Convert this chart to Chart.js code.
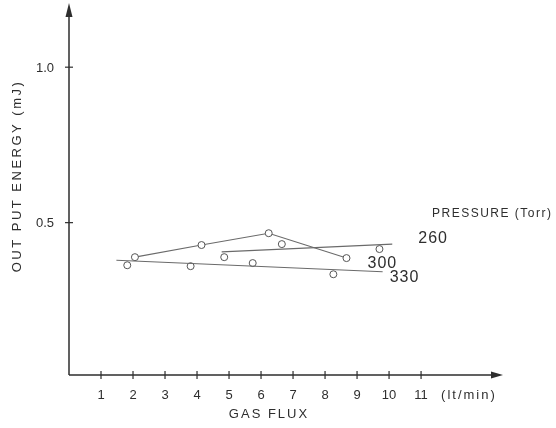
<!DOCTYPE html>
<html>
<head>
<meta charset="utf-8">
<script src="https://cdn.jsdelivr.net/npm/chart.js@4"></script>
<style>
  html, body { margin: 0; padding: 0; background: #fff; }
  #wrap { width: 556px; height: 428px; }
</style>
</head>
<body>
<div id="wrap"><canvas id="energyChart" width="556" height="428"></canvas></div>
<script>
// gas flux (lt/min) vs output energy (mJ), one set per pressure (Torr)
const xTicks = [1, 2, 3, 4, 5, 6, 7, 8, 9, 10, 11];
const yTicks = [0.5, 1.0];

const flux260 = [4.85, 6.65, 9.7];
const energy260 = [0.389, 0.431, 0.415];
const fit260x = [4.77, 10.1];
const fit260y = [0.406, 0.431];

const flux300 = [2.06, 4.14, 6.24, 8.67];
const energy300 = [0.389, 0.428, 0.466, 0.386];

const flux330 = [1.82, 3.8, 5.74, 8.26];
const energy330 = [0.363, 0.360, 0.370, 0.334];
const fit330x = [1.48, 9.8];
const fit330y = [0.379, 0.342];

const pressureLabels = ['260', '300', '330'];

function pts(xs, ys) {
    return xs.map(function (x, i) { return { x: x, y: ys[i] }; });
}

const ink = '#2e2e2e';
const lineGray = '#6a6a6a';
const fontFam = '"Liberation Sans", Arial, sans-serif';

const circleStyle = {
    showLine: false,
    pointRadius: 3.5,
    pointBorderWidth: 1,
    pointBackgroundColor: '#fff',
    pointBorderColor: '#555'
};

// hand drawn look: axes with arrows, crossing tick marks, text labels
const axesPlugin = {
    id: 'axesPlugin',
    afterDraw: function (chart) {
        const ctx = chart.ctx;
        const xs = chart.scales.x;
        const ys = chart.scales.y;
        const x0 = xs.getPixelForValue(0);
        const y0 = ys.bottom;
        const xEnd = xs.right;
        const yTop = ys.top;

        ctx.save();
        ctx.strokeStyle = ink;
        ctx.fillStyle = ink;
        ctx.lineWidth = 1.5;

        ctx.beginPath();
        ctx.moveTo(x0, y0);
        ctx.lineTo(xEnd - 6, y0);
        ctx.moveTo(x0, y0);
        ctx.lineTo(x0, yTop + 8);
        ctx.stroke();

        // arrows
        ctx.beginPath();
        ctx.moveTo(xEnd, y0);
        ctx.lineTo(xEnd - 12, y0 - 3.5);
        ctx.lineTo(xEnd - 12, y0 + 3.5);
        ctx.closePath();
        ctx.fill();
        ctx.beginPath();
        ctx.moveTo(x0, yTop - 2);
        ctx.lineTo(x0 - 3.5, yTop + 12);
        ctx.lineTo(x0 + 3.5, yTop + 12);
        ctx.closePath();
        ctx.fill();

        ctx.lineWidth = 1.2;
        ctx.font = '13px ' + fontFam;
        ctx.textAlign = 'center';
        ctx.textBaseline = 'middle';
        xTicks.forEach(function (t) {
            const px = xs.getPixelForValue(t);
            ctx.beginPath();
            ctx.moveTo(px, y0 - 4);
            ctx.lineTo(px, y0 + 4);
            ctx.stroke();
            ctx.fillText(String(t), px, y0 + 20);
        });
        ctx.textAlign = 'left';
        ctx.letterSpacing = '2px';
        ctx.fillText('(lt/min)', xs.getPixelForValue(11) + 20, y0 + 20);

        ctx.textAlign = 'right';
        ctx.letterSpacing = '0px';
        yTicks.forEach(function (t) {
            const py = ys.getPixelForValue(t);
            ctx.beginPath();
            ctx.moveTo(x0 - 4, py);
            ctx.lineTo(x0 + 4, py);
            ctx.stroke();
            ctx.fillText(t.toFixed(1), x0 - 15, py + 1);
        });

        // axis titles
        ctx.textAlign = 'center';
        ctx.letterSpacing = '2px';
        ctx.font = '13px ' + fontFam;
        ctx.fillText('GAS FLUX', 269, y0 + 39);
        ctx.save();
        ctx.translate(17, 176);
        ctx.rotate(-Math.PI / 2);
        ctx.letterSpacing = '2.5px';
        ctx.font = '13px ' + fontFam;
        ctx.fillText('OUT PUT ENERGY (mJ)', 0, 0);
        ctx.restore();

        // pressure labels next to line ends
        ctx.textAlign = 'left';
        ctx.letterSpacing = '1.5px';
        ctx.font = '12px ' + fontFam;
        ctx.fillText('PRESSURE (Torr)', 432, 214);
        ctx.font = '16px ' + fontFam;
        ctx.letterSpacing = '1px';
        ctx.fillText(pressureLabels[0], xs.getPixelForValue(fit260x[1]) + 26, ys.getPixelForValue(fit260y[1]) - 6);
        ctx.fillText(pressureLabels[1], xs.getPixelForValue(flux300[3]) + 21, ys.getPixelForValue(energy300[3]) + 6);
        ctx.fillText(pressureLabels[2], xs.getPixelForValue(fit330x[1]) + 7, ys.getPixelForValue(fit330y[1]) + 6);
        ctx.restore();
    }
};

document.addEventListener("DOMContentLoaded", function () {
    const ctx = document.getElementById('energyChart').getContext('2d');

    new Chart(ctx, {
        type: 'scatter',
        data: {
            datasets: [
                {
                    label: '260 fit',
                    data: pts(fit260x, fit260y),
                    showLine: true,
                    pointRadius: 0,
                    borderColor: lineGray,
                    borderWidth: 1.1
                },
                {
                    label: '330 fit',
                    data: pts(fit330x, fit330y),
                    showLine: true,
                    pointRadius: 0,
                    borderColor: lineGray,
                    borderWidth: 1.1
                },
                {
                    label: '300',
                    data: pts(flux300, energy300),
                    showLine: true,
                    borderColor: lineGray,
                    borderWidth: 1.1,
                    pointRadius: 3.5,
                    pointBorderWidth: 1,
                    pointBackgroundColor: '#fff',
                    pointBorderColor: '#555'
                },
                Object.assign({ label: '260', data: pts(flux260, energy260) }, circleStyle),
                Object.assign({ label: '330', data: pts(flux330, energy330) }, circleStyle)
            ]
        },
        options: {
            responsive: false,
            animation: false,
            layout: { padding: { left: 69, right: 53, top: 5, bottom: 53 } },
            plugins: { legend: { display: false }, tooltip: { enabled: false } },
            scales: {
                x: { type: 'linear', min: 0, max: 13.56, display: false },
                y: { type: 'linear', min: 0.01, max: 1.2, display: false }
            }
        },
        plugins: [axesPlugin]
    });
});
</script>
</body>
</html>
